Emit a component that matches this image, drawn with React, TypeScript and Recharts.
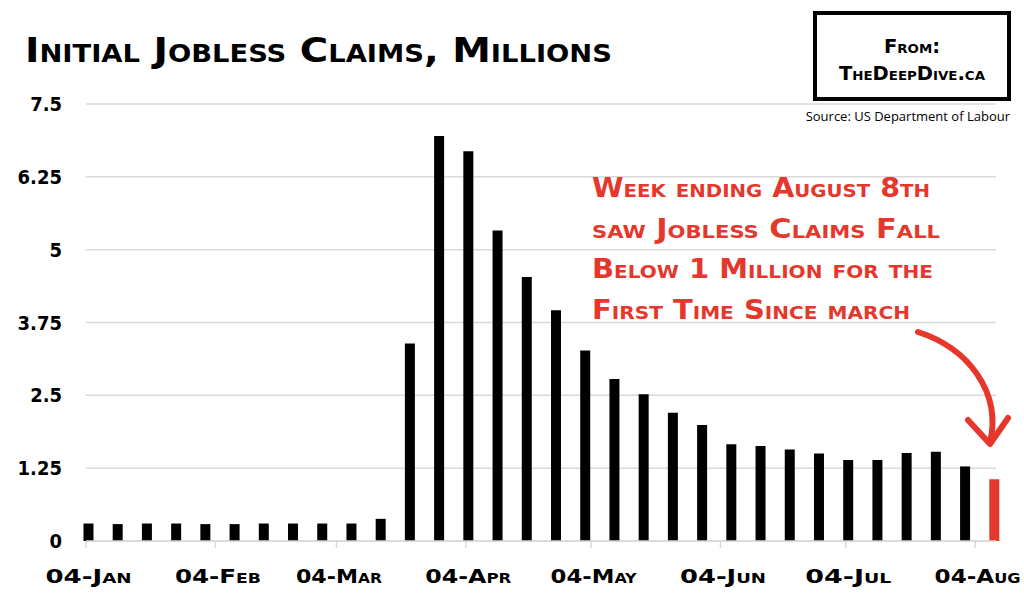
import { BarChart, CartesianGrid, XAxis, YAxis, Bar, Cell } from "recharts"

const weekEnding = [
	"2020-01-04", "2020-01-11", "2020-01-18", "2020-01-25",
	"2020-02-01", "2020-02-08", "2020-02-15", "2020-02-22", "2020-02-29",
	"2020-03-07", "2020-03-14", "2020-03-21", "2020-03-28",
	"2020-04-04", "2020-04-11", "2020-04-18", "2020-04-25",
	"2020-05-02", "2020-05-09", "2020-05-16", "2020-05-23", "2020-05-30",
	"2020-06-06", "2020-06-13", "2020-06-20", "2020-06-27",
	"2020-07-04", "2020-07-11", "2020-07-18", "2020-07-25",
	"2020-08-01", "2020-08-08",
]

// initial claims, millions
const claims = [
	0.3, 0.29, 0.3, 0.3,
	0.29, 0.29, 0.3, 0.3, 0.3,
	0.3, 0.38, 3.39, 6.95,
	6.69, 5.33, 4.53, 3.96,
	3.27, 2.78, 2.52, 2.2, 1.99,
	1.66, 1.63, 1.57, 1.5,
	1.39, 1.39, 1.51, 1.53,
	1.28, 1.06,
]

const monthTicks = ["2020-01-04", "2020-02-04", "2020-03-04", "2020-04-04", "2020-05-04", "2020-06-04", "2020-07-04", "2020-08-04"]
const monthLabels = ["04-Jan", "04-Feb", "04-Mar", "04-Apr", "04-May", "04-Jun", "04-Jul", "04-Aug"]
const yTicks = [0, 1.25, 2.5, 3.75, 5, 6.25, 7.5]

const note = [
	"Week ending August 8th",
	"saw Jobless Claims Fall",
	"Below 1 Million for the",
	"First Time Since march",
]

const RED = "#e5372b"
const FONT = "'DejaVu Sans Condensed', 'DejaVu Sans', sans-serif"

const dayOf = (d: string) => (Date.parse(d) - Date.parse(weekEnding[0])) / 86400000

const data = weekEnding.map((d, i) => ({
	day: dayOf(d) + 0.5,
	value: claims[i],
}))
const tickDays = monthTicks.map(dayOf)

const YTick = (props: any) => {
	const { x, y, payload } = props
	return (
		<text x={x} y={y} dy={7} textAnchor="end" fontFamily={FONT} fontWeight={700} fontSize={20} fill="#000">
			{String(payload.value)}
		</text>
	)
}

const XTick = (props: any) => {
	const { x, y, payload } = props
	const idx = tickDays.indexOf(payload.value)
	return (
		<text x={x + 2.5} y={y} dy={19} textAnchor="middle" fontFamily={FONT} fontWeight={700} fontSize={20}
			textLength={86} lengthAdjust="spacingAndGlyphs"
			style={{ fontVariant: "small-caps" }} fill="#000">
			{monthLabels[idx]}
		</text>
	)
}

const App = () => {
	return (
		<div style={{ position: "absolute", left: 0, top: 0, width: 1024, height: 604, background: "#fff" }}>
			<BarChart width={1024} height={604} data={data} margin={{ top: 104, right: 28, bottom: 23, left: 16 }}>
				<CartesianGrid vertical={false} stroke="#d9d9d9" strokeWidth={1.5} />
				<XAxis
					type="number"
					dataKey="day"
					domain={[0, dayOf(weekEnding[weekEnding.length - 1]) + 1]}
					ticks={tickDays}
					interval={0}
					height={40}
					axisLine={{ stroke: "#d9d9d9", strokeWidth: 1.5 }}
					tickLine={{ stroke: "#d9d9d9", strokeWidth: 1.5 }}
					tickSize={7}
					tickMargin={16}
					tick={<XTick />}
				/>
				<YAxis
					domain={[0, 7.5]}
					ticks={yTicks}
					interval={0}
					width={70}
					axisLine={false}
					tickLine={false}
					tickMargin={18}
					tick={<YTick />}
				/>
				<Bar dataKey="value" barSize={10} isAnimationActive={false}>
					{data.map((_, i) => (
						<Cell key={i} fill={i === data.length - 1 ? RED : "#000"} />
					))}
				</Bar>
			</BarChart>
			<svg width={1024} height={604} style={{ position: "absolute", left: 0, top: 0, pointerEvents: "none" }}>
				<text x={25} y={62} fontFamily={FONT} fontWeight={700} fontSize={34} textLength={587} lengthAdjust="spacingAndGlyphs"
					style={{ fontVariant: "small-caps" }} fill="#000">
					Initial Jobless Claims, Millions
				</text>
				<rect x={815} y={13} width={194} height={86} fill="#fff" stroke="#000" strokeWidth={4} />
				<text x={912} y={53} textAnchor="middle" fontFamily={FONT} fontWeight={700} fontSize={19} textLength={56}
					lengthAdjust="spacingAndGlyphs" style={{ fontVariant: "small-caps" }} fill="#000">
					From:
				</text>
				<text x={912} y={80} textAnchor="middle" fontFamily={FONT} fontWeight={700} fontSize={19} textLength={146}
					lengthAdjust="spacingAndGlyphs" style={{ fontVariant: "small-caps" }} fill="#000">
					TheDeepDive.ca
				</text>
				<text x={1010} y={121} textAnchor="end" fontFamily="'Open Sans', sans-serif" fontSize={13} fill="#000">
					Source: US Department of Labour
				</text>
				{note.map((line, i) => (
					<text key={i} x={592} y={197 + i * 40.5} fontFamily={FONT} fontWeight={700} fontSize={26}
						textLength={[338, 348, 341, 318][i]} lengthAdjust="spacingAndGlyphs"
						style={{ fontVariant: "small-caps" }} fill={RED}>
						{line}
					</text>
				))}
				<path d="M 918 332 C 968 348, 1002 392, 990 443" fill="none" stroke={RED} strokeWidth={6} strokeLinecap="round" />
				<path d="M 968 420 L 990 444 L 1008 418" fill="none" stroke={RED} strokeWidth={6} strokeLinecap="round" strokeLinejoin="round" />
			</svg>
		</div>
	)
}

export default App
